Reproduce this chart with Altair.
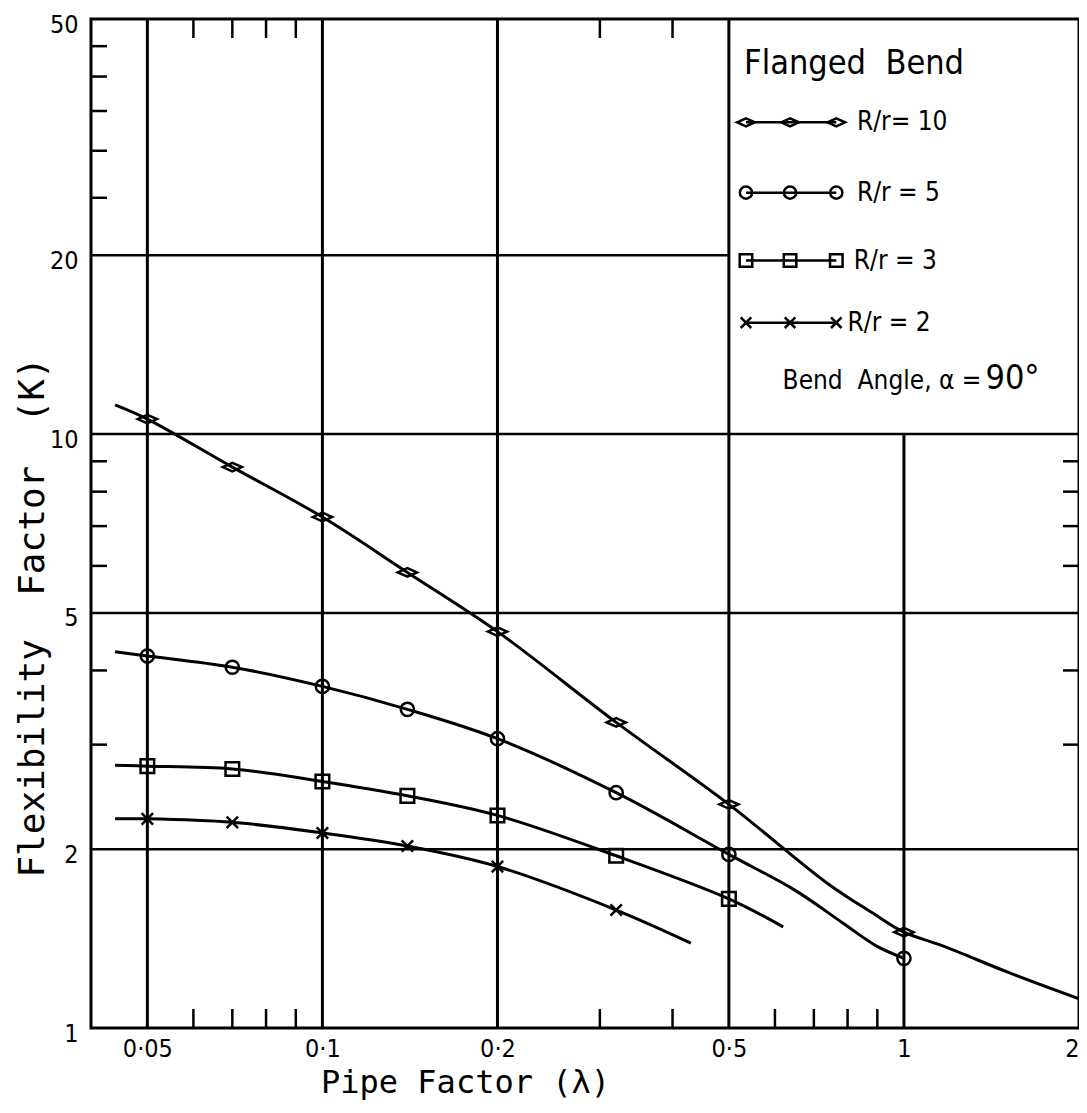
import altair as alt
import pandas as pd

# ---------------- data ----------------
lam = [0.05, 0.07, 0.1, 0.14, 0.2, 0.32, 0.5, 1.0]
k_r10 = [10.6, 8.8, 7.25, 5.85, 4.65, 3.27, 2.38, 1.45]
k_r5 = [4.23, 4.05, 3.76, 3.44, 3.07, 2.49, 1.96, 1.31]
k_r3 = [2.76, 2.73, 2.60, 2.46, 2.28, 1.95, 1.65]
k_r2 = [2.25, 2.22, 2.13, 2.025, 1.87, 1.58]

# extra points along the drawn curves (start / end / bends)
c10_x = [0.044, 0.74, 0.885, 1.166, 1.52, 2.0]
c10_y = [11.2, 1.75, 1.56, 1.375, 1.238, 1.12]
c5_x = [0.044, 0.647, 0.787, 0.896]
c5_y = [4.30, 1.71, 1.50, 1.375]
c3_x = [0.044, 0.62]
c3_y = [2.77, 1.48]
c2_x = [0.044, 0.43]
c2_y = [2.25, 1.39]

series_names = ["R/r = 10", "R/r = 5", "R/r = 3", "R/r = 2"]
legend_labels = ["R/r= 10", "R/r = 5", "R/r = 3", "R/r = 2"]

x_ticks = [0.05, 0.1, 0.2, 0.5, 1, 2]
y_ticks = [1, 2, 5, 10, 20, 50]
x_grid_full = [0.05, 0.1, 0.2, 0.5]
x_grid_low = [1.0]
y_grid_full = [2, 5, 10]
y_grid_left = [20]
x_minor_bottom = [0.06, 0.07, 0.08, 0.09, 0.3, 0.4, 0.6, 0.7, 0.8, 0.9]
x_minor_top = [0.06, 0.07, 0.08, 0.09, 0.3, 0.4]
y_minor_left = [3, 4, 6, 7, 8, 9, 25, 30, 35, 40, 45]
y_minor_right = [3, 4, 6, 7, 8, 9]

# legend anchor values (data coordinates)
legend_box_x = [0.5, 2.0]
legend_box_y = [10, 50]
legend_title_x = [0.531]
legend_title_y = [42.0]
legend_row_y = [33.5, 25.5, 19.6, 15.4]
legend_sym_x = [0.535, 0.637, 0.765]
legend_text_x = [0.83, 0.83, 0.82, 0.80]
angle_y = [12.3]
angle_join_x = [1.37]

# ---------------- styling ----------------
W, H = 988, 1009
FONT_T = "DejaVu Sans Mono"
FONT_N = "DejaVu Sans Condensed, Liberation Sans Narrow, DejaVu Sans"
DIAMOND = "M-1,0L0,-0.45L1,0L0,0.45Z"
XMARK = "M-1,-1L1,1M-1,1L1,-1"
shapes = [DIAMOND, "circle", "square", XMARK]
sizes = [370, 175, 185, 130]

xscale = alt.Scale(type="log", domain=[0.04, 2], nice=False)
yscale = alt.Scale(type="log", domain=[1, 50], nice=False)

xaxis = alt.Axis(
    values=x_ticks, labelExpr="replace(format(datum.value, '~g'), '.', '·')",
    grid=False, ticks=False, tickSize=0, domain=False, labelFlush=True,
    labelFont=FONT_N, labelFontSize=25, labelColor="black", labelPadding=8,
    title="Pipe Factor (λ)", titleFont=FONT_T, titleFontSize=32,
    titleFontWeight="normal", titleColor="black", titleX=374, titleY=54,
    titleAlign="center", titleBaseline="middle", titleAnchor="start",
)
yaxis = alt.Axis(
    values=y_ticks, format="~g", grid=False, ticks=False, tickSize=0, domain=False,
    labelFont=FONT_N, labelFontSize=25, labelColor="black", labelPadding=13,
    labelOffset=5,
    title="Flexibility\u00a0\u00a0Factor\u00a0\u00a0(K)", titleFont=FONT_T, titleFontSize=36,
    titleFontWeight="normal", titleColor="black", titleX=-59, titleY=598,
    titleAngle=270, titleAlign="center", titleBaseline="middle", titleAnchor="start",
)


def xe(field):
    return alt.X(f"{field}:Q", scale=xscale, axis=xaxis)


def ye(field):
    return alt.Y(f"{field}:Q", scale=yscale, axis=yaxis)


layers = []

# grid
layers.append(
    alt.Chart(pd.DataFrame({"x": x_grid_full})).mark_rule(color="black", strokeWidth=3)
    .encode(x=xe("x"))
)
layers.append(
    alt.Chart(pd.DataFrame({"y": y_grid_full})).mark_rule(color="black", strokeWidth=2.5)
    .encode(y=ye("y"))
)
layers.append(
    alt.Chart(pd.DataFrame({"x": x_grid_low, "y": [1], "y2": [legend_box_y[0]]}))
    .mark_rule(color="black", strokeWidth=3)
    .encode(x=xe("x"), y=ye("y"), y2="y2:Q")
)
layers.append(
    alt.Chart(pd.DataFrame({"y": y_grid_left, "x": [0.04], "x2": [legend_box_x[0]]}))
    .mark_rule(color="black", strokeWidth=2.5)
    .encode(y=ye("y"), x=xe("x"), x2="x2:Q")
)

# inner minor ticks
layers.append(
    alt.Chart(pd.DataFrame({"x": x_minor_bottom})).mark_rule(color="black", strokeWidth=2.5)
    .encode(x=xe("x"), y=alt.value(H), y2=alt.value(H - 19))
)
layers.append(
    alt.Chart(pd.DataFrame({"x": x_minor_top})).mark_rule(color="black", strokeWidth=2.5)
    .encode(x=xe("x"), y=alt.value(0), y2=alt.value(19))
)
layers.append(
    alt.Chart(pd.DataFrame({"y": y_minor_left})).mark_rule(color="black", strokeWidth=2.5)
    .encode(y=ye("y"), x=alt.value(0), x2=alt.value(16))
)
layers.append(
    alt.Chart(pd.DataFrame({"y": y_minor_right})).mark_rule(color="black", strokeWidth=2.5)
    .encode(y=ye("y"), x=alt.value(W), x2=alt.value(W - 16))
)

# curves and markers
marker_sets = [k_r10, k_r5, k_r3, k_r2]
extra_x = [c10_x, c5_x, c3_x, c2_x]
extra_y = [c10_y, c5_y, c3_y, c2_y]
for name, ks, ex, ey, shp, sz in zip(series_names, marker_sets, extra_x, extra_y, shapes, sizes):
    mx = lam[: len(ks)]
    line_df = pd.DataFrame({"x": list(mx) + list(ex), "y": list(ks) + list(ey)})
    line_df = line_df.sort_values("x").reset_index(drop=True)
    line_df["o"] = range(len(line_df))
    layers.append(
        alt.Chart(line_df).mark_line(color="black", strokeWidth=3, interpolate="catmull-rom")
        .encode(x=xe("x"), y=ye("y"), order="o:Q")
    )
    layers.append(
        alt.Chart(pd.DataFrame({"x": mx, "y": ks}))
        .mark_point(shape=shp, size=sz, filled=False, color="black", strokeWidth=2.5, opacity=1)
        .encode(x=xe("x"), y=ye("y"))
    )

# legend
layers.append(
    alt.Chart(pd.DataFrame({"x": legend_title_x, "y": legend_title_y, "t": ["Flanged\u00a0\u00a0Bend"]}))
    .mark_text(align="left", baseline="middle", font=FONT_N, fontSize=34, color="black")
    .encode(x=xe("x"), y=ye("y"), text="t:N")
)
leg_rows = pd.DataFrame({
    "y": legend_row_y, "x0": [legend_sym_x[0]] * 4, "x1": [legend_sym_x[-1]] * 4,
    "tx": legend_text_x, "t": legend_labels,
})
layers.append(
    alt.Chart(leg_rows).mark_rule(color="black", strokeWidth=2.5)
    .encode(x=xe("x0"), x2="x1:Q", y=ye("y"))
)
layers.append(
    alt.Chart(leg_rows).mark_text(align="left", baseline="middle", font=FONT_N, fontSize=26, color="black")
    .encode(x=xe("tx"), y=ye("y"), text="t:N")
)
for ry, shp, sz in zip(legend_row_y, shapes, sizes):
    layers.append(
        alt.Chart(pd.DataFrame({"x": legend_sym_x, "y": [ry] * len(legend_sym_x)}))
        .mark_point(shape=shp, size=sz * 0.85, filled=False, color="black", strokeWidth=2.5, opacity=1)
        .encode(x=xe("x"), y=ye("y"))
    )
layers.append(
    alt.Chart(pd.DataFrame({"x": angle_join_x, "y": angle_y, "t": ["Bend\u00a0\u00a0Angle,\u00a0α\u00a0="]}))
    .mark_text(align="right", baseline="middle", font=FONT_N, fontSize=26, color="black", dx=-2)
    .encode(x=xe("x"), y=ye("y"), text="t:N")
)
layers.append(
    alt.Chart(pd.DataFrame({"x": angle_join_x, "y": angle_y, "t": ["90°"]}))
    .mark_text(align="left", baseline="middle", font=FONT_N, fontSize=34, color="black", dx=2, dy=-2)
    .encode(x=xe("x"), y=ye("y"), text="t:N")
)

chart = (
    alt.layer(*layers)
    .properties(
        width=W, height=H,
        autosize=alt.AutoSizeParams(type="none"),
        padding={"left": 83, "top": 11, "right": 0, "bottom": 72},
        background="white",
    )
    .configure_view(stroke="black", strokeWidth=3)
)

chart.save("out.html", embed_options={"renderer": "svg", "actions": False})
